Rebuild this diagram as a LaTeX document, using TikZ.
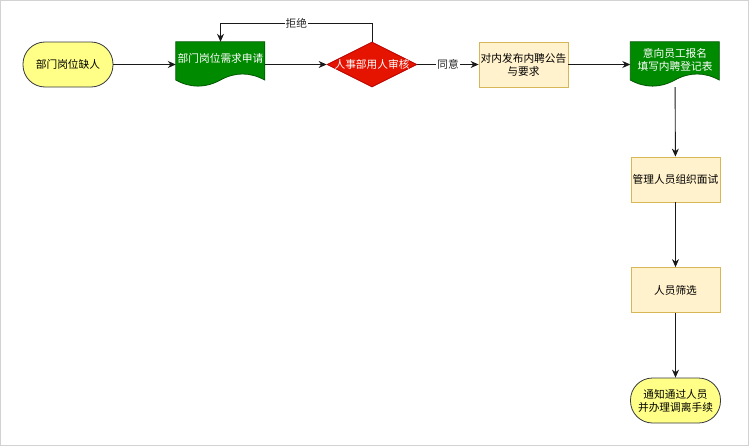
\documentclass[tikz,border=0pt]{standalone}
\usepackage{fontspec}
\setmainfont{Noto Sans CJK SC}
\usetikzlibrary{positioning, shapes.geometric, arrows.meta, backgrounds}
\definecolor{docFill}{HTML}{008A00}
\definecolor{docLine}{HTML}{005700}
\definecolor{decFill}{HTML}{E51400}
\definecolor{decLine}{HTML}{B20000}
\definecolor{termFill}{HTML}{FFFF88}
\definecolor{termLine}{HTML}{36393D}
\definecolor{boxFill}{HTML}{FFF2CC}
\definecolor{boxLine}{HTML}{D6B656}
\begin{document}
\begin{tikzpicture}[
  x=1pt, y=-1pt,
  font=\fontsize{10.7}{13}\selectfont,
  term/.style={rectangle, rounded corners=22pt, draw=termLine, fill=termFill,
               line width=0.8pt, minimum width=90pt, minimum height=45pt,
               inner sep=0pt, align=center},
  taskbox/.style={rectangle, draw=boxLine, fill=boxFill, line width=0.8pt,
                  minimum width=89pt, minimum height=45pt, inner sep=0pt,
                  align=center},
  docbox/.style={rectangle, minimum width=89pt, minimum height=45pt,
                 inner sep=0pt, align=center, text=white, text depth=14pt},
  wave/.style={fill=docFill, draw=docLine, line width=0.8pt},
  decide/.style={diamond, draw=decLine, fill=decFill, line width=0.8pt,
                 minimum width=90pt, minimum height=45pt, inner sep=0pt,
                 text=white},
  flow/.style={-{Stealth[length=8pt,width=7pt]}, black!90, line width=0.9pt},
  lab/.style={fill=white, inner sep=1pt, text=black!85},
]

% =========================================================================
% Frame of the page: 750 x 447, light grey border
% =========================================================================
\useasboundingbox (0,0) rectangle (750,447);
\draw[gray!35, line width=1pt] (0.5,0.5) rectangle (748.5,445.5);

% ---- top row: request and approval --------------------------------------
\node[term]    (start) at (68,64.5)    {部门岗位缺人};
\node[docbox]  (req)   at (220.5,64.5) {部门岗位需求申请};
\node[decide]  (dec)   at (372,64.5)   {\makebox[0pt]{人事部用人审核}};
\node[taskbox] (pub)   at (523.5,64.5) {对内发布内聘公告\\与要求};
\node[docbox, text depth=10pt]
               (reg)   at (675,64.5)   {意向员工报名\\填写内聘登记表};

% document glyphs (89 x 45, wavy foot) behind the two docbox nodes
\begin{scope}[on background layer]
\foreach \d in {req,reg}{
  \draw[wave, shift={(\d.north west)}]
    (0,0) -- (89,0) -- (89,38.25)
    .. controls (74.17,30.15) and (59.33,30.15) .. (44.5,38.25)
    .. controls (29.67,46.35) and (14.83,46.35) .. (0,38.25) -- cycle;
}
\end{scope}

% ---- right column: interview down to the end ----------------------------
\node[taskbox] (intv)  at (675.5,179.5) {管理人员组织面试};
\node[taskbox] (pick)  at (675.5,290)   {人员筛选};
\node[term]    (done)  at (675.5,400.5) {通知通过人员\\并办理调离手续};

% ---- connectors ---------------------------------------------------------
\draw[flow] (start) -- (req);
\draw[flow] (req) -- (dec);
\draw[flow] (dec.north) -- ++(0,-18) -| node[lab, pos=0.25] {拒绝} (req.north);
\draw[flow] (dec) -- node[lab] {同意} (pub);
\draw[flow] (pub) -- (reg);
\draw[flow] (reg) -- (intv);
\draw[flow] (intv) -- (pick);
\draw[flow] (pick) -- (done);

\end{tikzpicture}
\end{document}
